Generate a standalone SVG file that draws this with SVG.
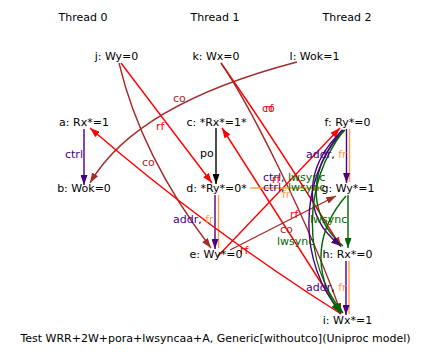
<svg xmlns="http://www.w3.org/2000/svg" width="433" height="361" viewBox="0 0 433 361">
<style>
text{font-family:"DejaVu Sans","Liberation Sans",sans-serif;font-size:11px;fill:#000}
.n{text-anchor:middle}
.e{fill:none;stroke-width:1.4}
.ind{stroke:#4B0082}.org{stroke:#FFA040}.red{stroke:#FF0000}.brn{stroke:#A52A2A}.grn{stroke:#006400}.blk{stroke:#000}
.ti{fill:#4B0082}.to{fill:#FFA040}.tr{fill:#FF0000}.tb{fill:#A52A2A}.tg{fill:#006400}
</style>
<defs>
<marker id="mi" markerUnits="userSpaceOnUse" markerWidth="10" markerHeight="7" refX="10" refY="3.5" orient="auto"><path d="M0,0L10,3.5L0,7z" fill="#4B0082"/></marker>
<marker id="mk" markerUnits="userSpaceOnUse" markerWidth="10" markerHeight="7" refX="10" refY="3.5" orient="auto"><path d="M0,0L10,3.5L0,7z" fill="#000"/></marker>
<marker id="mr" markerUnits="userSpaceOnUse" markerWidth="10" markerHeight="7" refX="10" refY="3.5" orient="auto"><path d="M0,0L10,3.5L0,7z" fill="#FF0000"/></marker>
<marker id="mb" markerUnits="userSpaceOnUse" markerWidth="10" markerHeight="7" refX="10" refY="3.5" orient="auto"><path d="M0,0L10,3.5L0,7z" fill="#A52A2A"/></marker>
<marker id="mg" markerUnits="userSpaceOnUse" markerWidth="10" markerHeight="7" refX="10" refY="3.5" orient="auto"><path d="M0,0L10,3.5L0,7z" fill="#006400"/></marker>
<marker id="mo" markerUnits="userSpaceOnUse" markerWidth="10" markerHeight="7" refX="10" refY="3.5" orient="auto"><path d="M0,0L10,3.5L0,7z" fill="#FFA040"/></marker>
</defs>
<rect width="433" height="361" fill="#fff"/>
<g id="threads">
<text class="n" x="83" y="21">Thread 0</text>
<text class="n" x="215" y="21">Thread 1</text>
<text class="n" x="347" y="21">Thread 2</text>
</g>
<g id="connectors">
<path class="e ind" d="M84,129L84,185" marker-end="url(#mi)"/>
<path class="e blk" d="M216,128L216,184" marker-end="url(#mk)"/>
<path class="e org" d="M218.5,195L218.5,248"/>
<path class="e ind" d="M215,195L215,249" marker-end="url(#mi)"/>
<path class="e org" d="M349.5,129L349.5,182"/>
<path class="e ind" d="M346.5,129L346.5,183" marker-end="url(#mi)"/>
<path class="e grn" d="M348,195L348,248" marker-end="url(#mg)"/>
<path class="e org" d="M349,261L349,314"/>
<path class="e ind" d="M346,261L346,315" marker-end="url(#mi)"/>
<path class="e red" d="M121,63L212,183" marker-end="url(#mr)"/>
<path class="e brn" d="M297,62Q136,104 90,183" marker-end="url(#mb)"/>
<path class="e brn" d="M119,63Q141,156 211,248" marker-end="url(#mb)"/>
<path class="e red" d="M221,63Q275,140 341,247" marker-end="url(#mr)"/>
<path class="e brn" d="M221,63C250,105 310,225 341,313" marker-end="url(#mb)"/>
<path class="e red" d="M341,314L222,128" marker-end="url(#mr)"/>
<path class="e red" d="M341,314Q208,230 90,128" marker-end="url(#mr)"/>
<path class="e red" d="M218,256L340,128" marker-end="url(#mr)"/>
<path class="e brn" d="M230,250L336,196" marker-end="url(#mb)"/>
<path class="e org" d="M250,188L322,188" marker-end="url(#mo)"/>
<path class="e grn" d="M345,130C309,165 305,213 343,246"/>
<path class="e ind" d="M343,130C305,165 300,215 341,246" marker-end="url(#mi)"/>
<path class="e ind" d="M342,130C298,185 298,262 341,313"/>
<path class="e grn" d="M344,130C302,185 302,262 343,313" marker-end="url(#mg)"/>
<path class="e grn" d="M346,196C318,228 310,270 340,313" marker-end="url(#mg)"/>
</g>
<g id="edge-labels">
<text class="ti" x="65" y="158">ctrl</text>
<text x="200" y="157">po</text>
<text x="173" y="223"><tspan class="ti">addr</tspan>, <tspan class="to">fr</tspan></text>
<text x="306" y="158"><tspan class="ti">addr</tspan>, <tspan class="to">fr</tspan></text>
<text x="306" y="291"><tspan class="ti">addr</tspan>, <tspan class="to">fr</tspan></text>
<text class="tg" x="310" y="223">lwsync</text>
<text x="263" y="181"><tspan class="ti">ctrl</tspan>, <tspan class="tg">lwsync</tspan></text>
<text x="263" y="191"><tspan class="ti">ctrl</tspan>, <tspan class="tg">lwsync</tspan></text>
<text class="to" x="282" y="198">fr</text>
<text class="tg" x="277" y="245">lwsync</text>
<text class="tr" x="156" y="130">rf</text>
<text class="tb" x="173" y="102">co</text>
<text class="tb" x="142" y="166">co</text>
<text class="tb" x="262" y="112">co</text>
<text class="tr" x="265" y="112">rf</text>
<text class="tr" x="272" y="183">rf</text>
<text class="tr" x="290" y="218">rf</text>
<text class="tb" x="280" y="233">co</text>
<text class="tr" x="240" y="254">rf</text>
</g>
<g id="j"><text class="n" x="116.5" y="60">j: Wy=0</text></g>
<g id="k"><text class="n" x="216" y="60">k: Wx=0</text></g>
<g id="l"><text class="n" x="314.5" y="60">l: Wok=1</text></g>
<g id="a"><text class="n" x="84" y="126">a: Rx*=1</text></g>
<g id="b"><text class="n" x="84" y="192">b: Wok=0</text></g>
<g id="c"><text class="n" x="216.5" y="126">c: *Rx*=1*</text></g>
<g id="d"><text class="n" x="216.5" y="192">d: *Ry*=0*</text></g>
<g id="e"><text class="n" x="216" y="258">e: Wy*=0</text></g>
<g id="f"><text class="n" x="347.5" y="126">f: Ry*=0</text></g>
<g id="g"><text class="n" x="348" y="192">g: Wy*=1</text></g>
<g id="h"><text class="n" x="347.5" y="258">h: Rx*=0</text></g>
<g id="i"><text class="n" x="347.5" y="324">i: Wx*=1</text></g>
<g id="caption"><text class="n" x="215.5" y="342">Test WRR+2W+pora+lwsyncaa+A, Generic[withoutco](Uniproc model)</text></g>
</svg>
